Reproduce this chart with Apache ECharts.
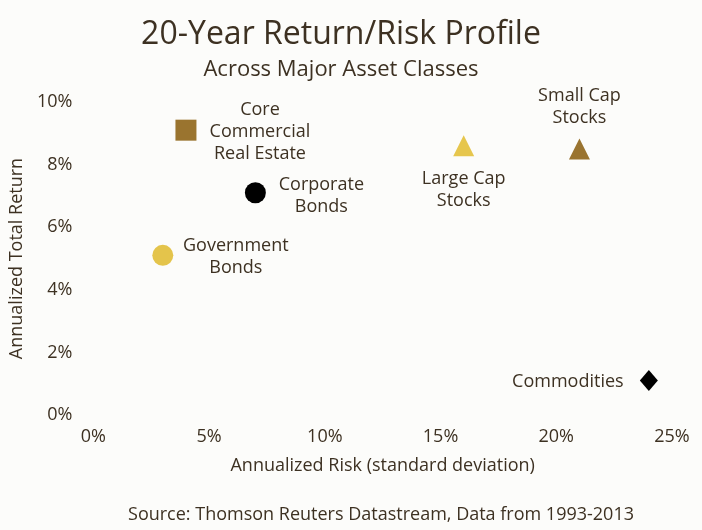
<!DOCTYPE html>
<html>
<head>
<meta charset="utf-8">
<script src="https://cdn.jsdelivr.net/npm/echarts@6/dist/echarts.min.js"></script>
<style>
  html, body { margin: 0; padding: 0; background: #fcfcfa; }
  #main { width: 702px; height: 530px; }
</style>
</head>
<body>
<div id="main"></div>
<script>
// data (percent)
var assetNames = ['Core\nCommercial\nReal Estate', 'Corporate\nBonds', 'Government\nBonds', 'Large Cap\nStocks', 'Small Cap\nStocks', 'Commodities'];
var riskValues = [4.0, 7.0, 3.0, 16.0, 21.0, 24.0];
var returnValues = [9.1, 7.1, 5.1, 8.6, 8.5, 1.1];
var xTicks = [0, 5, 10, 15, 20, 25];
var yTicks = [0, 2, 4, 6, 8, 10];

var textColor = '#3d3122';
var fontName = 'Open Sans';

// marker look per asset
var markStyle = [
  { symbol: 'rect', size: 21, color: '#9a742f', offset: [74, 2] },
  { symbol: 'circle', size: 21, color: '#000000', offset: [66, 3] },
  { symbol: 'circle', size: 21, color: '#e4c44b', offset: [73, 2] },
  { symbol: 'triangle', size: 21, color: '#e6c64d', offset: [0, 44] },
  { symbol: 'triangle', size: 21, color: '#9a7430', offset: [0, -42] },
  { symbol: 'diamond', size: [18, 21], color: '#000000', offset: [-81, 1] }
];

var points = assetNames.map(function (name, i) {
  var s = markStyle[i];
  return {
    name: name,
    value: [riskValues[i], returnValues[i]],
    symbol: s.symbol,
    symbolSize: s.size,
    itemStyle: { color: s.color, opacity: 1 },
    label: { offset: s.offset }
  };
});

var dom = document.getElementById('main');
var myChart = echarts.init(dom, null, { renderer: 'canvas' });

var option = {
  backgroundColor: '#fcfcfa',
  animation: false,
  textStyle: { fontFamily: fontName, color: textColor },
  title: [
    {
      text: '20-Year Return/Risk Profile',
      subtext: 'Across Major Asset Classes',
      left: 336,
      top: 14,
      textAlign: 'center',
      itemGap: 8,
      textStyle: { fontFamily: fontName, fontSize: 32, fontWeight: 'normal', color: textColor },
      subtextStyle: { fontFamily: fontName, fontSize: 22, color: textColor }
    },
    {
      text: 'Source: Thomson Reuters Datastream, Data from 1993-2013',
      left: 376,
      top: 501,
      textAlign: 'center',
      textStyle: { fontFamily: fontName, fontSize: 18, fontWeight: 'normal', color: textColor }
    }
  ],
  grid: { left: 88, right: 30, top: 102, bottom: 115, containLabel: false },
  xAxis: {
    type: 'value',
    min: xTicks[0],
    max: xTicks[xTicks.length - 1],
    interval: 5,
    name: 'Annualized Risk (standard deviation)',
    nameLocation: 'middle',
    nameGap: 42,
    nameTextStyle: { fontSize: 18, color: textColor, fontFamily: fontName },
    axisLine: { show: false },
    axisTick: { show: false },
    splitLine: { show: false },
    axisLabel: {
      margin: 13,
      fontSize: 18,
      color: textColor,
      fontFamily: fontName,
      formatter: function (v) { return v + '%'; }
    }
  },
  yAxis: {
    type: 'value',
    min: yTicks[0],
    max: yTicks[yTicks.length - 1],
    interval: 2,
    name: 'Annualized Total Return',
    nameLocation: 'middle',
    nameGap: 65,
    nameTextStyle: { fontSize: 18, color: textColor, fontFamily: fontName },
    axisLine: { show: false },
    axisTick: { show: false },
    splitLine: { show: false },
    axisLabel: {
      margin: 21,
      fontSize: 18,
      color: textColor,
      fontFamily: fontName,
      formatter: function (v) { return v + '%'; }
    }
  },
  series: [
    {
      type: 'scatter',
      data: points,
      itemStyle: { opacity: 1 },
      label: {
        show: true,
        position: 'inside',
        align: 'center',
        verticalAlign: 'middle',
        fontSize: 18,
        lineHeight: 22,
        color: textColor,
        textBorderWidth: 0,
        opacity: 1,
        fontFamily: fontName,
        formatter: function (p) { return p.name; }
      },
      emphasis: { disabled: true }
    }
  ]
};

myChart.setOption(option);
window.addEventListener('resize', myChart.resize);
</script>
</body>
</html>
